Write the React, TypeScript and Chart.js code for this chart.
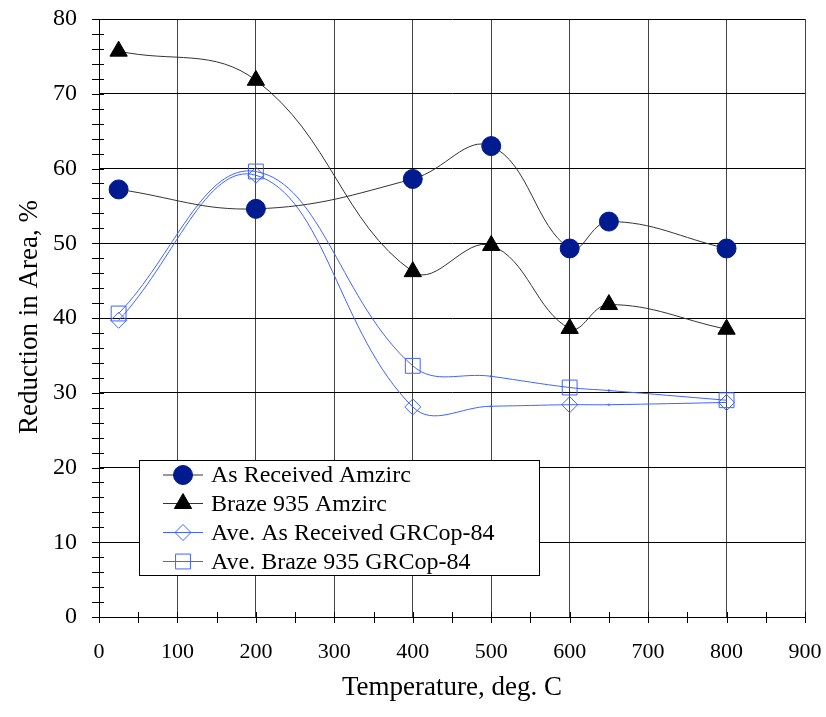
import React, { useEffect, useRef } from "react";
import { Chart, registerables } from "chart.js";
import { drawPoint } from "chart.js/helpers";

Chart.register(...registerables);

const amzircTemps = [25, 200, 400, 500, 600, 650, 800];
const asReceivedAmzirc = [57.2, 54.6, 58.6, 63.0, 49.3, 52.9, 49.3];
const braze935Amzirc = [75.7, 71.8, 46.2, 49.7, 38.6, 41.8, 38.5];

const grcopTemps = [25, 200, 400, 500, 600, 650, 800];
const aveAsReceivedGRCop = [39.7, 59.1, 28.1, 28.2, 28.4, 28.4, 28.7];
const aveBraze935GRCop = [40.6, 59.6, 33.6, 32.2, 30.7, 30.3, 29.0];
const grcopMarkerShown = [true, true, true, false, true, false, true];

const seriesNames = [
  "As Received Amzirc",
  "Braze 935 Amzirc",
  "Ave. As Received GRCop-84",
  "Ave. Braze 935 GRCop-84",
];

const xTitle = "Temperature, deg. C";
const yTitle = "Reduction in Area, %";

const FONT = "'Liberation Serif', 'Times New Roman', serif";
const NAVY = "#001a8f";
const BLUE = "#4263ff";

const toPts = (xs: number[], ys: number[]) => xs.map((x, i) => ({ x, y: ys[i] }));

const decorPlugin = {
  id: "decor",
  afterDraw(chart: any) {
    const ctx = chart.ctx;
    const { left, right, top, bottom } = chart.chartArea;
    const xs = chart.scales.x;
    const ys = chart.scales.y;
    ctx.save();
    ctx.strokeStyle = "#000";
    ctx.lineWidth = 1;
    ctx.beginPath();
    xs.ticks.forEach((t: any) => {
      const px = Math.round(xs.getPixelForValue(t.value)) + 0.5;
      ctx.moveTo(px, bottom - 5);
      ctx.lineTo(px, bottom + 6);
    });
    ys.ticks.forEach((t: any) => {
      const py = Math.round(ys.getPixelForValue(t.value)) + 0.5;
      ctx.moveTo(left - 7, py);
      ctx.lineTo(left + 5, py);
    });
    ctx.stroke();

    // axis titles
    ctx.fillStyle = "#000";
    ctx.font = `27px ${FONT}`;
    ctx.textAlign = "center";
    ctx.textBaseline = "middle";
    ctx.fillText(xTitle, (left + right) / 2, 688);
    ctx.save();
    ctx.translate(30, 317);
    ctx.rotate(-Math.PI / 2);
    ctx.fillText(yTitle, 0, 0);
    ctx.restore();

    // legend
    const bx = 139.5, by = 460.5, bw = 400, bh = 115;
    ctx.fillStyle = "#fff";
    ctx.fillRect(bx, by, bw, bh);
    ctx.strokeStyle = "#000";
    ctx.lineWidth = 1;
    ctx.strokeRect(bx, by, bw, bh);
    const rows = [475, 503.5, 532.5, 561.5];
    chart.data.datasets.forEach((ds: any, i: number) => {
      const ry = rows[i];
      ctx.strokeStyle = ds.borderColor;
      ctx.lineWidth = 1;
      ctx.beginPath();
      ctx.moveTo(163, ry);
      ctx.lineTo(203, ry);
      ctx.stroke();
      const r = Array.isArray(ds.pointRadius) ? ds.pointRadius[0] : ds.pointRadius;
      ctx.fillStyle = ds.pointBackgroundColor;
      ctx.strokeStyle = ds.pointBorderColor;
      ctx.lineWidth = ds.pointBorderWidth;
      drawPoint(ctx, { pointStyle: ds.pointStyle, radius: r, rotation: 0, borderWidth: ds.pointBorderWidth } as any, 183, ry);
      ctx.fillStyle = "#000";
      ctx.font = `24px ${FONT}`;
      ctx.textAlign = "left";
      ctx.textBaseline = "middle";
      ctx.fillText(ds.label, 211, ry + 1);
    });
    ctx.restore();
  },
};

export default function App() {
  const ref = useRef<HTMLCanvasElement | null>(null);

  useEffect(() => {
    document.body.style.margin = "0";
    const canvas = ref.current!;
    const markerR = (r: number) => grcopMarkerShown.map((s) => (s ? r : 1));
    const chart = new Chart(canvas, {
      type: "line",
      data: {
        datasets: [
          {
            label: seriesNames[0],
            data: toPts(amzircTemps, asReceivedAmzirc),
            borderColor: "#333",
            borderWidth: 1,
            pointStyle: "circle",
            pointRadius: 9.5,
            pointBackgroundColor: NAVY,
            pointBorderColor: NAVY,
            pointBorderWidth: 1,
            tension: 0.4,
          },
          {
            label: seriesNames[1],
            data: toPts(amzircTemps, braze935Amzirc),
            borderColor: "#333",
            borderWidth: 1,
            pointStyle: "triangle",
            pointRadius: 10,
            pointBackgroundColor: "#000",
            pointBorderColor: "#000",
            pointBorderWidth: 1,
            tension: 0.4,
          },
          {
            label: seriesNames[2],
            data: toPts(grcopTemps, aveAsReceivedGRCop),
            borderColor: BLUE,
            borderWidth: 1,
            pointStyle: "rectRot",
            pointRadius: markerR(8),
            pointBackgroundColor: "rgba(255,255,255,0)",
            pointBorderColor: BLUE,
            pointBorderWidth: 1,
            tension: 0.4,
          },
          {
            label: seriesNames[3],
            data: toPts(grcopTemps, aveBraze935GRCop),
            borderColor: BLUE,
            borderWidth: 1,
            pointStyle: "rect",
            pointRadius: markerR(10.5),
            pointBackgroundColor: "rgba(255,255,255,0)",
            pointBorderColor: BLUE,
            pointBorderWidth: 1,
            tension: 0.4,
          },
        ],
      },
      options: {
        responsive: false,
        animation: false,
        layout: { padding: { top: 19, right: 21, left: 0, bottom: 0 } },
        plugins: { legend: { display: false }, tooltip: { enabled: false } },
        scales: {
          x: {
            type: "linear",
            min: 0,
            max: 900,
            afterFit: (s: any) => {
              s.height = 100;
              s.paddingLeft = 0;
              s.paddingRight = 0;
            },
            ticks: {
              stepSize: 50,
              padding: 22,
              color: "#000",
              font: { family: FONT, size: 22 },
              callback: (v: any) => (Number(v) % 100 === 0 ? String(v) : ""),
              maxRotation: 0,
              autoSkip: false,
            },
            grid: {
              drawTicks: false,
              color: (c: any) => (c.tick && c.tick.value % 100 === 0 && c.tick.value !== 0 ? "#444" : "rgba(0,0,0,0)"),
              lineWidth: 1,
            },
            border: { color: "#000", width: 1 },
          },
          y: {
            min: 0,
            max: 80,
            afterFit: (s: any) => {
              s.width = 99;
              s.paddingTop = 0;
              s.paddingBottom = 0;
            },
            ticks: {
              stepSize: 2,
              padding: 22,
              color: "#000",
              font: { family: FONT, size: 24 },
              callback: (v: any) => (Number(v) % 10 === 0 ? String(v) : ""),
              autoSkip: false,
            },
            grid: {
              drawTicks: false,
              color: (c: any) => (c.tick && c.tick.value % 10 === 0 && c.tick.value !== 0 ? "#000" : "rgba(0,0,0,0)"),
              lineWidth: 1,
            },
            border: { color: "#000", width: 1 },
          },
        },
      },
      plugins: [decorPlugin],
    });
    return () => chart.destroy();
  }, []);

  return <canvas ref={ref} width={826} height={717} style={{ display: "block", width: 826, height: 717 }} />;
}
